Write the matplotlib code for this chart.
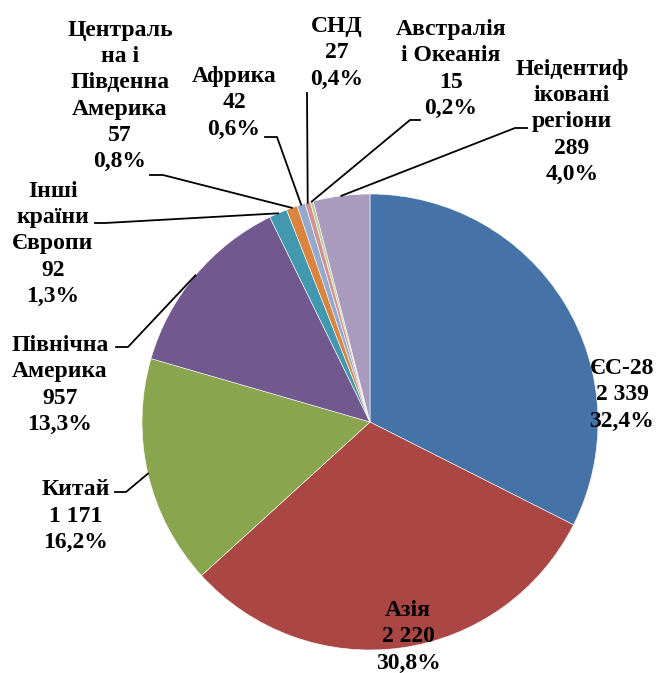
import numpy as np
import matplotlib.pyplot as plt

# регіони, обсяги та частки
regions = ['ЄС-28', 'Азія', 'Китай', 'Північна\nАмерика', 'Інші\nкраїни\nЄвропи',
           'Централь\nна і\nПівденна\nАмерика', 'Африка', 'СНД', 'Австралія\nі Океанія',
           'Неідентиф\nіковані\nрегіони']
values = [2339, 2220, 1171, 957, 92, 57, 42, 27, 15, 289]
values_txt = ['2 339', '2 220', '1 171', '957', '92', '57', '42', '27', '15', '289']
shares_txt = ['32,4%', '30,8%', '16,2%', '13,3%', '1,3%', '0,8%', '0,6%', '0,4%', '0,2%', '4,0%']

colors = ['#4572A7', '#AA4643', '#89A54E', '#71588F', '#4198AF', '#DB843D',
          '#93A9CF', '#D19392', '#B9CD96', '#A99BBD']

# положення підписів (пікселі картинки) і початок виноски
label_pos = [(622, 395), (408, 637), (76, 516), (60, 385), (53, 244),
             (120, 96), (234, 103), (337, 53), (451, 69), (572, 122)]
leader_start = [None, None, (115, 492), (116, 347), (95, 223),
                (150, 175), (265, 137), (307, 93), (420, 120), (527, 128)]
leader_dx = [0, 0, 11, 12, 10, 13, 12, 0, -10, -12]

cx, cy, r = 370, 422, 228

fig = plt.figure(figsize=(6.6, 6.73), dpi=100)
ax = fig.add_axes([0, 0, 1, 1])

wedges, _ = ax.pie(values, colors=colors, center=(cx, cy), radius=r,
                   startangle=-90, counterclock=True,
                   wedgeprops=dict(edgecolor='white', linewidth=0.4))
ax.set_xlim(0, 660)
ax.set_ylim(673, 0)
ax.axis('off')

font = dict(family='Liberation Serif', weight='bold', size=17)

for i, w in enumerate(wedges):
    txt = regions[i] + '\n' + values_txt[i] + '\n' + shares_txt[i]
    x, y = label_pos[i]
    ax.text(x, y, txt, ha='center', va='center', multialignment='center',
            linespacing=1.32, **font)
    if leader_start[i] is not None:
        a = np.deg2rad((w.theta1 + w.theta2) / 2)
        wx, wy = cx + r * np.cos(a), cy + r * np.sin(a)
        sx, sy = leader_start[i]
        ex = sx + leader_dx[i]
        ax.plot([sx, ex, wx], [sy, sy, wy], color='black', lw=1.3)

fig.savefig('out.png', dpi=100)
